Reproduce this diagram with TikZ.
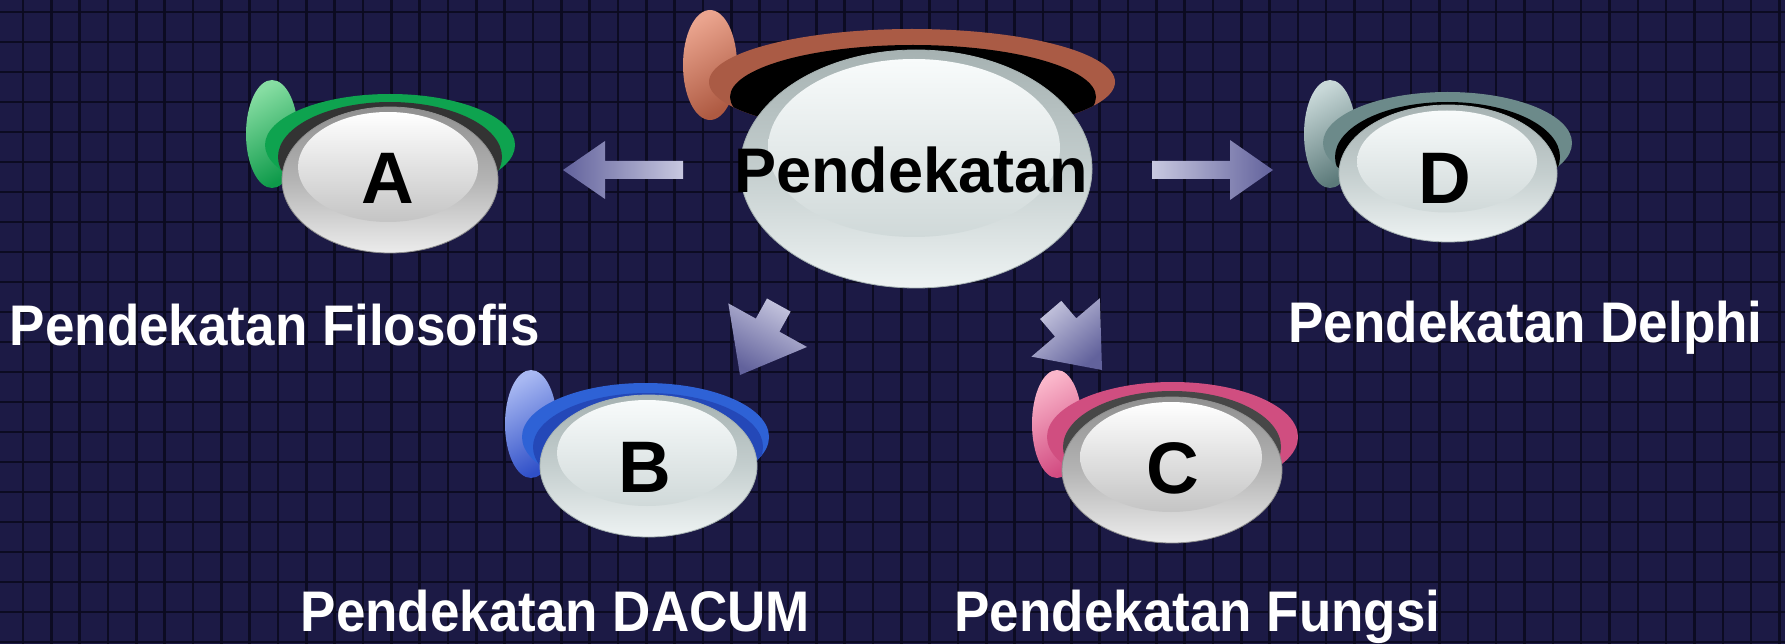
\documentclass[tikz,border=0pt]{standalone}
\usepackage{fontspec}
\setmainfont{Liberation Sans}
\usepackage{graphicx}
\usetikzlibrary{shapes.geometric}
\definecolor{bgc}{HTML}{1C1A45}
\definecolor{gridc}{HTML}{0B0A1F}
\definecolor{arrlight}{HTML}{C8C8E0}
\definecolor{arrdark}{HTML}{62629C}
\definecolor{gring}{HTML}{0EA34F}
\definecolor{gknl}{HTML}{86DDA2}
\definecolor{gknd}{HTML}{0E9A4A}
\definecolor{bring}{HTML}{2E62D6}
\definecolor{bband}{HTML}{2448B8}
\definecolor{bknl}{HTML}{A8B8F2}
\definecolor{bknd}{HTML}{3050C8}
\definecolor{pring}{HTML}{D04E80}
\definecolor{pknl}{HTML}{FAB6CA}
\definecolor{pknd}{HTML}{D24C82}
\definecolor{tring}{HTML}{6C8A8A}
\definecolor{tknl}{HTML}{C8D8D8}
\definecolor{tknd}{HTML}{5C7A7A}
\definecolor{oring}{HTML}{AA5B45}
\definecolor{oknl}{HTML}{EAA48E}
\definecolor{oknd}{HTML}{AE5A42}
\definecolor{bandg}{HTML}{333333}
\definecolor{bdtop}{HTML}{A6B2B2}
\definecolor{bdmid}{HTML}{C4CECE}
\definecolor{bdbot}{HTML}{EEF3F3}
\definecolor{bitop}{HTML}{F8FBFB}
\definecolor{bibot}{HTML}{D0D9D9}
\definecolor{gdtop}{HTML}{8F8F8F}
\definecolor{gdmid}{HTML}{B4B4B4}
\definecolor{gdbot}{HTML}{ECECEC}
\definecolor{gitop}{HTML}{FFFFFF}
\definecolor{gibot}{HTML}{C4C4C4}
\tikzset{
  gridline/.style={draw=gridc, line width=2.6pt, opacity=0.9},
  discgray/.style={ellipse, inner sep=0pt, draw=gdtop, line width=0.8pt,
    top color=gdtop, bottom color=gdbot, middle color=gdmid},
  discblue/.style={ellipse, inner sep=0pt, draw=bdtop, line width=0.8pt,
    top color=bdtop, bottom color=bdbot, middle color=bdmid},
  lbl/.style={text=white, font=\fontsize{53pt}{60pt}\selectfont\bfseries, inner sep=0pt, anchor=base},
  letter/.style={text=black, font=\fontsize{73pt}{80pt}\selectfont\bfseries, inner sep=0pt, anchor=base},
  ptext/.style={text=black, font=\fontsize{63pt}{70pt}\selectfont\bfseries, inner sep=0pt, anchor=base},
}
\newcommand{\blockarr}[8]{%
  \shade[top color=arrlight, bottom color=arrdark, shading angle=#8, shift={(#1,#2)}, rotate=#3]
    (0,0) -- (-#5,#4) -- (-#5,#6) -- ({-#5-#7},#6) -- ({-#5-#7},-#6) -- (-#5,-#6) -- (-#5,-#4) -- cycle;}
\begin{document}
\begin{tikzpicture}[x=1pt,y=-1pt]
\useasboundingbox (0,0) rectangle (1785,644);
\fill[bgc] (0,0) rectangle (1785,644);
\foreach \i in {0,...,62} \draw[gridline] ({23+28.33*\i},0) -- ({23+28.33*\i},644);
\foreach \j in {0,...,21} \draw[gridline] (0,{12+30*\j}) -- (1785,{12+30*\j});

% ---- centre: Pendekatan
\shade[top color=oknl, bottom color=oknd, shading angle=30] (710,65) ellipse [x radius=27, y radius=55];
\fill[oring] (912,82) ellipse [x radius=203, y radius=53];
\begin{scope}
  \clip (912,82) ellipse [x radius=203, y radius=53];
  \fill[black] (913,97) ellipse [x radius=183, y radius=52];
\end{scope}
\node[discblue, minimum width=352pt, minimum height=238pt] (P) at (916,169) {};
\shade[top color=bitop, bottom color=bibot] (914,148) ellipse [x radius=146, y radius=89];
\node[ptext] (Pt) at (911,193) {Pendekatan};

% ---- A
\shade[top color=gknl, bottom color=gknd, shading angle=30] (272,134) ellipse [x radius=26, y radius=54];
\fill[gring] (390,145) ellipse [x radius=125, y radius=51];
\begin{scope}
  \clip (390,145) ellipse [x radius=125, y radius=51];
  \fill[bandg] (390,157) ellipse [x radius=112, y radius=55];
\end{scope}
\node[discgray, minimum width=216pt, minimum height=146pt] (A) at (390,180) {};
\shade[top color=gitop, bottom color=gibot] (388,167) ellipse [x radius=90, y radius=55];
\node[letter] (At) at (388,204) {A};

% ---- B
\shade[top color=bknl, bottom color=bknd, shading angle=30] (531,424) ellipse [x radius=26, y radius=54];
\fill[bring] (645.5,437) ellipse [x radius=123.5, y radius=54];
\begin{scope}
  \clip (645.5,437) ellipse [x radius=123.5, y radius=54];
  \fill[bband] (648,447) ellipse [x radius=115, y radius=54];
\end{scope}
\node[discblue, minimum width=217pt, minimum height=142pt] (B) at (648.5,466) {};
\shade[top color=bitop, bottom color=bibot] (647,453) ellipse [x radius=90, y radius=53];
\node[letter] (Bt) at (645,492) {B};

% ---- C
\shade[top color=pknl, bottom color=pknd, shading angle=30] (1057,424) ellipse [x radius=25, y radius=54];
\fill[pring] (1172.5,437) ellipse [x radius=125.5, y radius=55];
\begin{scope}
  \clip (1172.5,437) ellipse [x radius=125.5, y radius=55];
  \fill[bandg!90!white] (1172,447) ellipse [x radius=109, y radius=56];
\end{scope}
\node[discgray, minimum width=220pt, minimum height=146pt] (C) at (1172,470) {};
\shade[top color=gitop, bottom color=gibot] (1171,457) ellipse [x radius=91, y radius=55];
\node[letter] (Ct) at (1173,493) {C};

% ---- D
\shade[top color=tknl, bottom color=tknd, shading angle=30] (1330,134) ellipse [x radius=26, y radius=54];
\fill[tring] (1447.5,143) ellipse [x radius=124.5, y radius=51];
\begin{scope}
  \clip (1447.5,143) ellipse [x radius=124.5, y radius=51];
  \fill[black] (1447.5,157) ellipse [x radius=112.5, y radius=55];
\end{scope}
\node[discblue, minimum width=218pt, minimum height=137pt] (D) at (1448,173.5) {};
\shade[top color=bitop, bottom color=bibot] (1447,161.5) ellipse [x radius=90, y radius=51];
\node[letter] (Dt) at (1445,204) {D};

% ---- arrows
\blockarr{563}{170}{180}{29}{42}{9}{78}{270}
\blockarr{1273}{170}{0}{30}{43}{9}{78}{90}
\blockarr{740}{375}{241}{45}{57}{13.5}{23}{331}
\blockarr{1102}{370}{-49.5}{45}{56}{14}{23}{40.5}

% ---- labels
\node[lbl] (lf) at (275,345) {\scalebox{1}[1.08]{Pendekatan Filosofis}};
\node[lbl] (ld) at (1525.5,342) {\scalebox{1}[1.08]{Pendekatan Delphi}};
\node[lbl] (lb) at (555.5,631) {\scalebox{1}[1.08]{Pendekatan DACUM}};
\node[lbl] (lc) at (1197.5,631) {\scalebox{1}[1.08]{Pendekatan Fungsi}};
\end{tikzpicture}
\end{document}
